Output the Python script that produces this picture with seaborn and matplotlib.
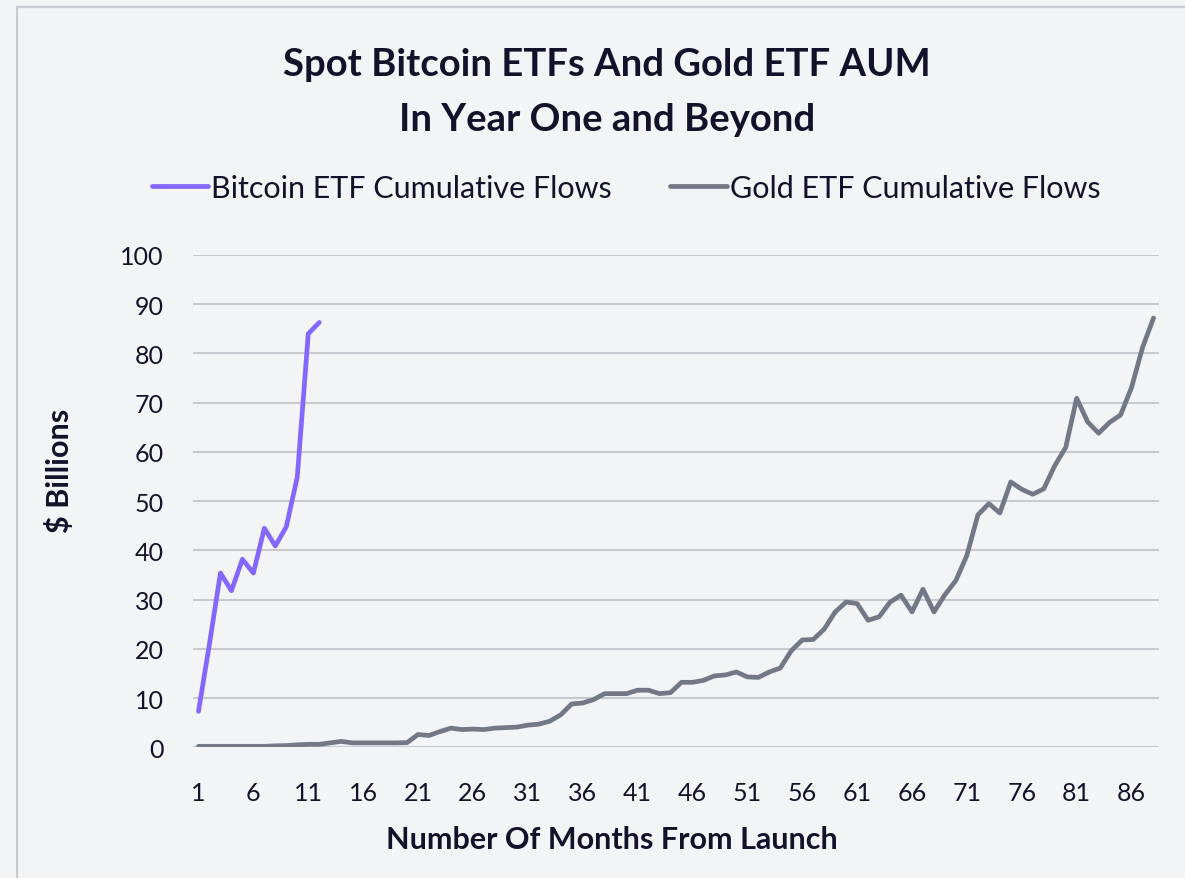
import pandas as pd
import matplotlib
matplotlib.use("Agg")
import matplotlib.pyplot as plt
import seaborn as sns
from matplotlib.patches import Rectangle

# values ($ billions, cumulative flows by month since launch)
bitcoin_flows = [7.3, 21.0, 35.4, 31.8, 38.2, 35.4, 44.5, 40.9, 44.8, 54.9, 84.0, 86.3]
gold_flows = [
    0.2, 0.2, 0.2, 0.2, 0.2, 0.2, 0.2, 0.3, 0.35, 0.5,
    0.6, 0.6, 0.9, 1.2, 0.9, 0.9, 0.9, 0.9, 0.9, 0.95,
    2.6, 2.4, 3.2, 3.9, 3.6, 3.7, 3.6, 3.9, 4.0, 4.1,
    4.5, 4.7, 5.3, 6.6, 8.8, 9.0, 9.7, 10.9, 10.9, 10.9,
    11.6, 11.6, 10.9, 11.1, 13.2, 13.2, 13.6, 14.5, 14.7, 15.3,
    14.3, 14.2, 15.3, 16.1, 19.6, 21.8, 21.9, 24.0, 27.5, 29.5,
    29.2, 25.8, 26.5, 29.5, 30.9, 27.5, 32.1, 27.5, 31.0, 33.9,
    39.0, 47.2, 49.5, 47.6, 53.9, 52.4, 51.4, 52.5, 57.2, 60.9,
    70.9, 66.1, 63.8, 66.0, 67.5, 73.1, 81.2, 87.2,
]
series_names = ["Bitcoin ETF Cumulative Flows", "Gold ETF Cumulative Flows"]
y_ticks = list(range(0, 101, 10))
x_ticks = list(range(1, 89, 5))

BG = "#f3f4f6"
TEXT = "#12122b"
COLORS = {series_names[0]: "#8467fd", series_names[1]: "#737886"}

frames = []
for name, vals in zip(series_names, [bitcoin_flows, gold_flows]):
    frames.append(pd.DataFrame({
        "month": range(1, len(vals) + 1),
        "flows": vals,
        "series": name,
    }))
df = pd.concat(frames, ignore_index=True)

sns.set_theme(style="white")
plt.rcParams["font.family"] = ["Lato", "DejaVu Sans"]

fig = plt.figure(figsize=(11.85, 8.79), dpi=100, facecolor=BG)
# thin frame that runs off the right and bottom edges
fig.patches.append(Rectangle((17 / 1185, -0.1), 1.2, 1 - 8 / 879 + 0.1,
                             transform=fig.transFigure, fill=False,
                             edgecolor="#c9cacf", linewidth=1.6, zorder=0))

ax = fig.add_axes([193 / 1185, 1 - 748.3 / 879, 966 / 1185, 492.3 / 879])
ax.set_facecolor(BG)

for y in y_ticks:
    ax.axhline(y, color="#c8c9ce", linewidth=1.5, zorder=1)

sns.lineplot(data=df, x="month", y="flows", hue="series", palette=COLORS,
             linewidth=3.4, ax=ax, zorder=3, legend=False,
             solid_capstyle="round", solid_joinstyle="round")

ax.set_xlim(0.5, 88.5)
ax.set_ylim(0, 100)
ax.set_xticks(x_ticks)
ax.set_yticks(y_ticks)
ax.tick_params(axis="both", length=0, labelsize=18, colors=TEXT)
ax.tick_params(axis="x", pad=24)
ax.tick_params(axis="y", pad=21)
for s in ax.spines.values():
    s.set_visible(False)

ax.set_xlabel("Number Of Months From Launch", fontsize=22, fontweight="bold",
              color=TEXT, labelpad=16)
# the x title sits under the chart title rather than the plot centre
ax.xaxis.set_label_coords((612 - 193) / 966, -(840 - 748.3) / 492.3)
ax.xaxis.label.set_va("center")
ax.set_ylabel("$ Billions", fontsize=22, fontweight="bold", color=TEXT)
ax.yaxis.set_label_coords(-119 / 966, 0.563)

fig.text(0.512, 1 - 65 / 879, "Spot Bitcoin ETFs And Gold ETF AUM",
         ha="center", va="center", fontsize=27.5, fontweight="bold", color=TEXT)
fig.text(0.512, 1 - 120 / 879, "In Year One and Beyond",
         ha="center", va="center", fontsize=27.5, fontweight="bold", color=TEXT)

handles = [plt.Line2D([], [], color=COLORS[n], linewidth=3.4, solid_capstyle="round")
           for n in series_names]
fig.legend(handles, series_names, loc="center", bbox_to_anchor=(626 / 1185, 1 - 189 / 879),
           ncol=2, frameon=False, fontsize=22, labelcolor=TEXT,
           handlelength=1.85, handletextpad=0.1, columnspacing=1.9)

fig.savefig("out.png", dpi=100, facecolor=BG)
